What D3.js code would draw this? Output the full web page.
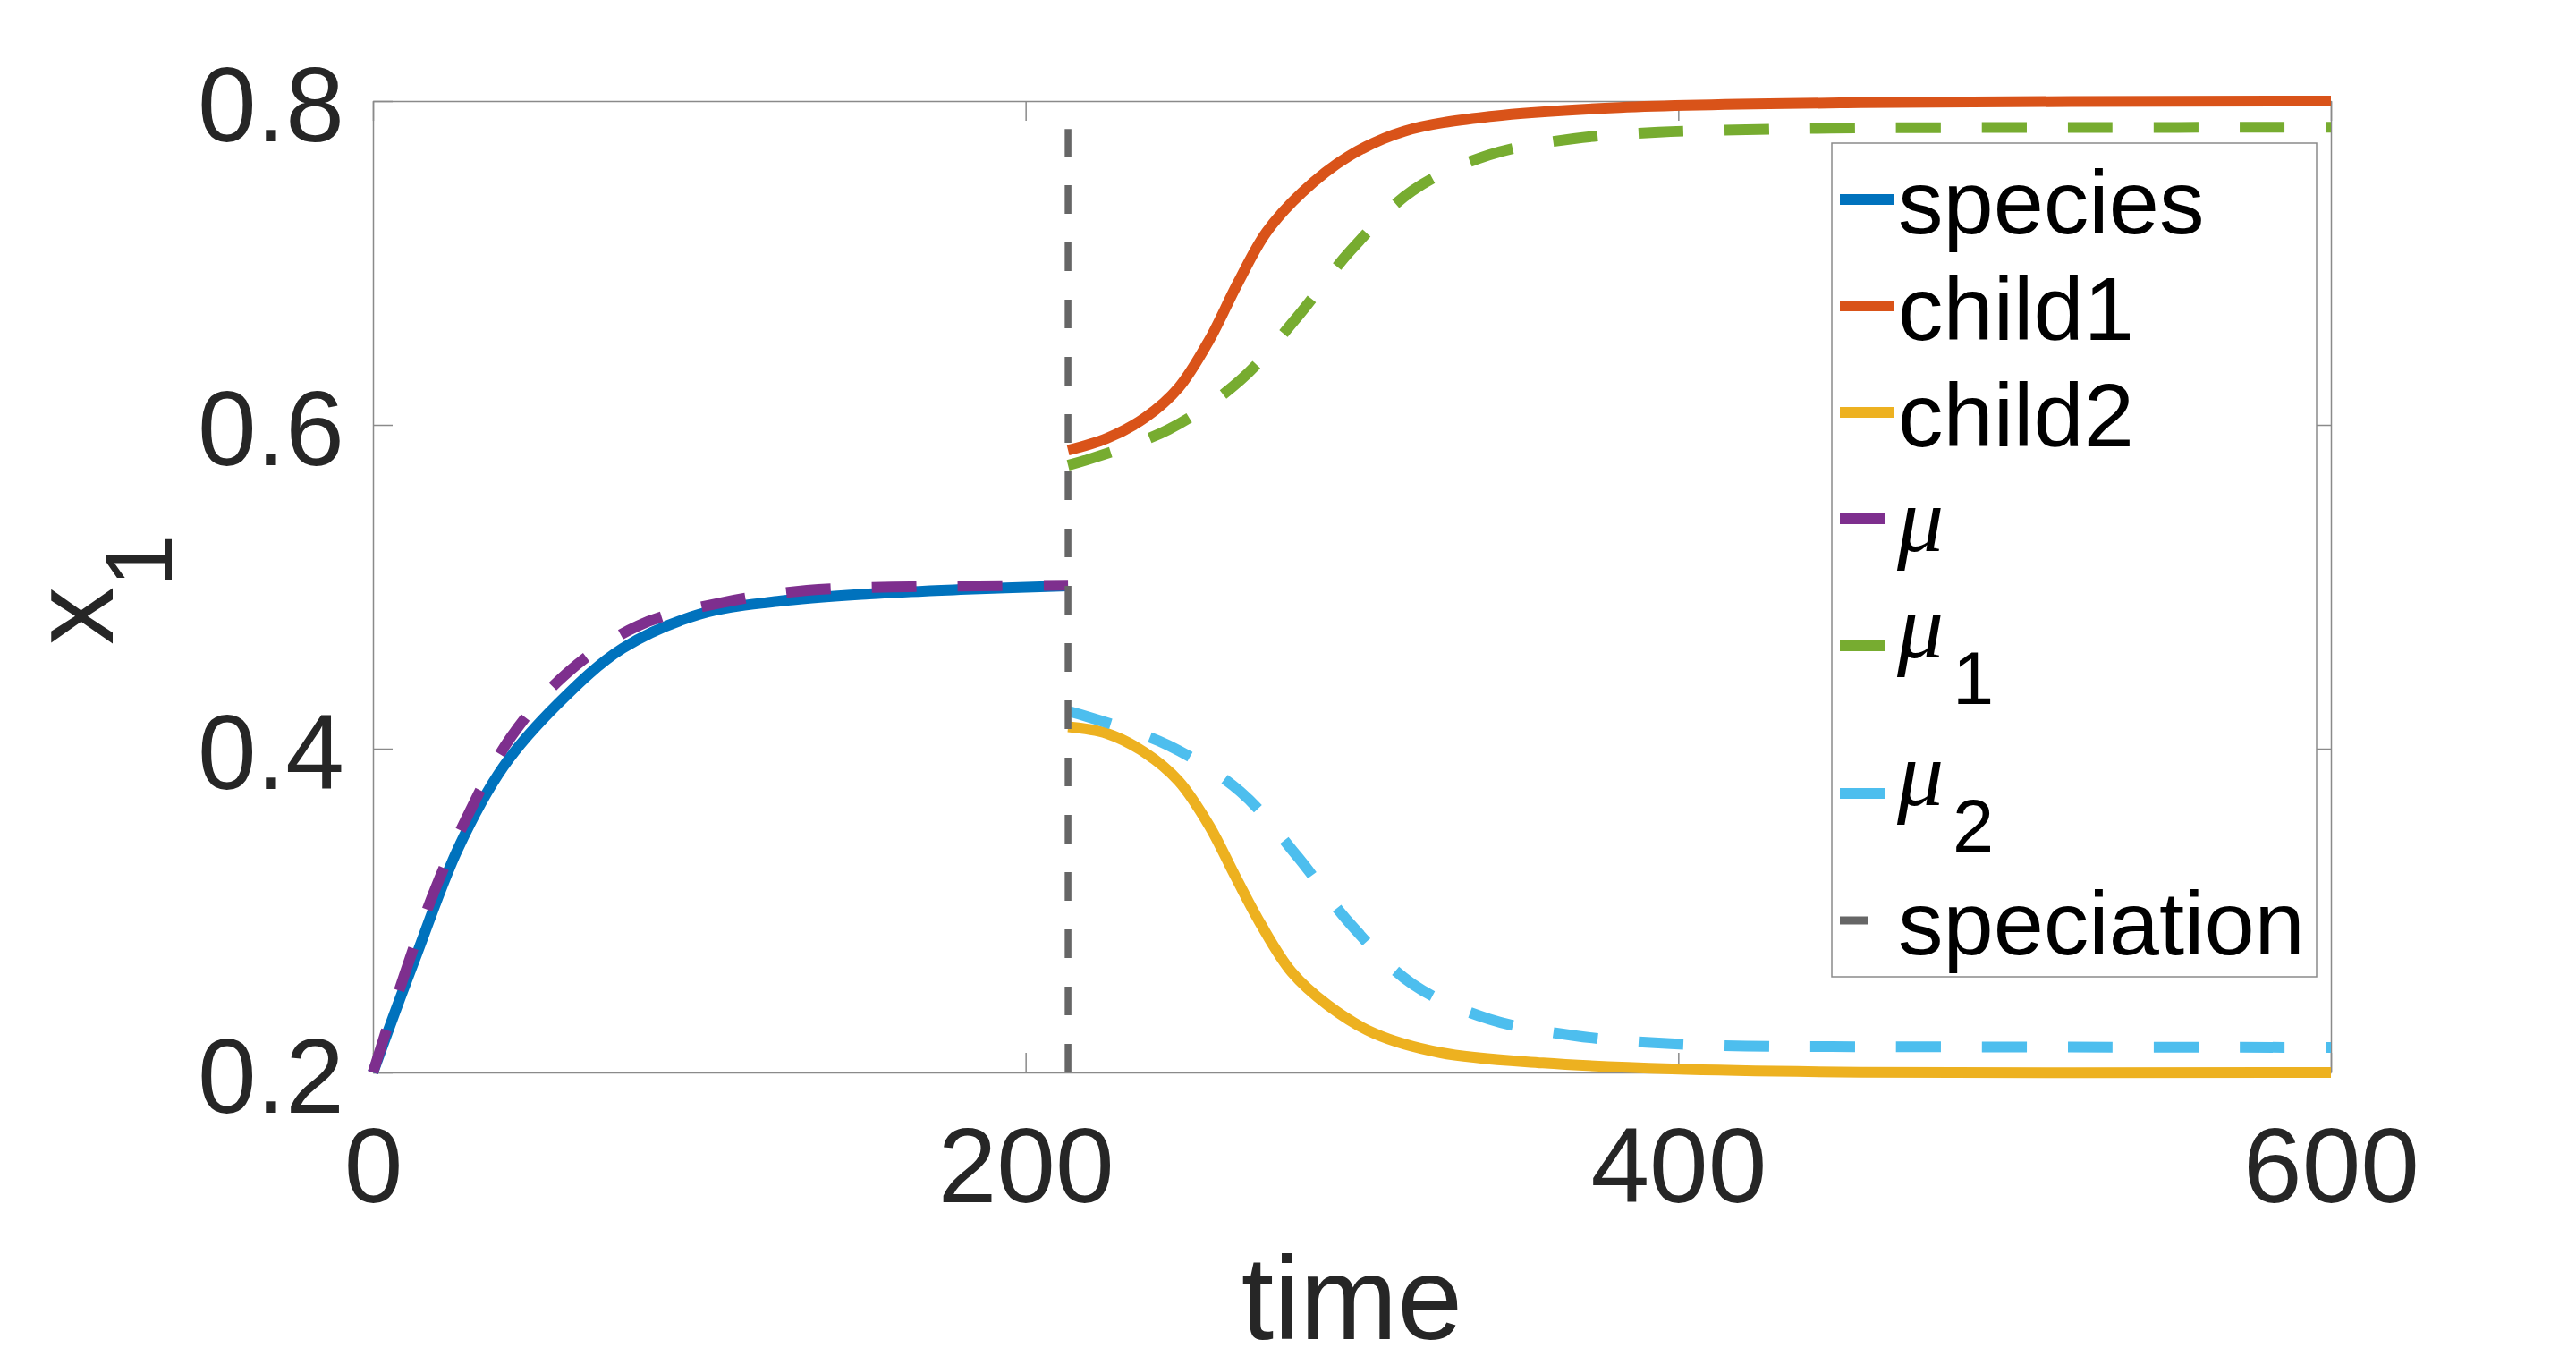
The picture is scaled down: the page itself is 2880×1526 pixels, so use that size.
<!DOCTYPE html>
<html>
<head>
<meta charset="utf-8">
<script src="https://cdn.jsdelivr.net/npm/d3@7/dist/d3.min.js"></script>
<style>
  body { margin: 0; background: #fff; }
  svg text { font-family: "Liberation Sans", Arial, Helvetica, sans-serif; }
</style>
</head>
<body>
<div id="chart"></div>
<script>
// values (time, x1)

var speciesT = [0, 6.5, 13.4, 26, 40, 56.8, 76.5, 100, 124, 152, 180, 213];
var speciesV = [0.2, 0.236, 0.273, 0.338, 0.389, 0.428, 0.462, 0.483, 0.491, 0.4956, 0.4983, 0.5005];

var muT = [0, 9.9, 19, 29.6, 42.2, 59.6, 81.3, 106.4, 133, 159, 185.6, 213];
var muV = [0.2, 0.262, 0.313, 0.361, 0.407, 0.447, 0.476, 0.490, 0.4978, 0.4998, 0.5005, 0.501];

var child1T = [213, 224.9, 236.7, 246.9, 256.3, 265, 273.7, 284.7, 298.8, 316, 343, 382, 456, 600];
var child1V = [0.5844, 0.5917, 0.6046, 0.623, 0.6525, 0.6875, 0.7188, 0.7436, 0.7657, 0.7814, 0.7906, 0.796, 0.799, 0.8];

var mu1T = [213, 219.4, 243.8, 265.8, 283.1, 299.6, 318.5, 342, 368, 394, 420.8, 446.8, 520, 600];
var mu1V = [0.5751, 0.5788, 0.5972, 0.6276, 0.6663, 0.7077, 0.7446, 0.7667, 0.7768, 0.7808, 0.7823, 0.7833, 0.7837, 0.7838];

var child2T = [213, 224.9, 236.7, 246.9, 256.3, 264.3, 272.1, 281.5, 292.5, 306.7, 327, 358.5, 398, 456, 600];
var child2V = [0.4135, 0.4094, 0.3974, 0.38, 0.3523, 0.321, 0.2915, 0.2621, 0.2418, 0.2243, 0.2123, 0.2059, 0.2022, 0.2002, 0.2];

var mu2T = [213, 219.4, 243.8, 265.8, 283.1, 299.6, 318.5, 342, 368, 394, 420.8, 446.8, 520, 600];
var mu2V = [0.4232, 0.4195, 0.402, 0.3735, 0.3339, 0.2915, 0.2547, 0.233, 0.2228, 0.2182, 0.2163, 0.216, 0.2157, 0.2155];

var speciationT = 213;
var speciationV = [0.2, 0.7828];

var xTicks = [0, 200, 400, 600];
var yTicks = [0.2, 0.4, 0.6, 0.8];

var legendNames = ["species", "child1", "child2", "\u03bc", "\u03bc", "\u03bc", "speciation"];
var legendSubs = ["", "", "", "", "1", "2", ""];

// styling
var colors = ["#0072BD", "#D95319", "#EDB120", "#7E2F8E", "#77AC30", "#4DBEEE", "#666666"];
var dashes = [null, null, null, "50,46", "50,46", "50,46", "32,32"];
var widths = [12, 12, 12, 12, 12, 12, 7.5];
var axisColor = "#8a8a8a";
var tickColor = "#262626";

var width = 2880, height = 1526;
var margin = { top: 113, right: 274, bottom: 327, left: 417 };

var x = d3.scaleLinear()
    .domain([0, 600])
    .range([margin.left, width - margin.right]);

var y = d3.scaleLinear()
    .domain([0.2, 0.8])
    .range([height - margin.bottom, margin.top]);

var svg = d3.select("#chart").append("svg")
    .attr("width", width)
    .attr("height", height);

function zip(ts, vs) {
  return ts.map(function(t, i) { return [t, vs[i]]; });
}

//AXES (box with inward ticks on all four sides)

function styleAxis(g, fontSize) {
  g.attr("font-family", null).attr("font-size", null);
  g.select(".domain").attr("stroke", axisColor).attr("stroke-width", 1.5);
  g.selectAll(".tick line").attr("stroke", axisColor).attr("stroke-width", 1.5);
  g.selectAll(".tick text").attr("fill", tickColor).attr("font-size", fontSize);
}

svg.append("g")
    .attr("transform", "translate(0," + y(0.2) + ")")
    .call(d3.axisBottom(x).tickValues(xTicks).tickSizeInner(-22).tickSizeOuter(0).tickPadding(61))
    .call(styleAxis, 118);

svg.append("g")
    .attr("transform", "translate(0," + y(0.8) + ")")
    .call(d3.axisTop(x).tickValues(xTicks).tickSizeInner(-22).tickSizeOuter(0).tickFormat(function() { return ""; }))
    .call(styleAxis, 118);

var gy = svg.append("g")
    .attr("transform", "translate(" + x(0) + ",0)")
    .call(d3.axisLeft(y).tickValues(yTicks).tickSizeInner(-22).tickSizeOuter(0).tickPadding(32).tickFormat(d3.format(".1f")))
    .call(styleAxis, 118);
gy.selectAll(".tick text").attr("dy", "0.38em");

svg.append("g")
    .attr("transform", "translate(" + x(600) + ",0)")
    .call(d3.axisRight(y).tickValues(yTicks).tickSizeInner(-22).tickSizeOuter(0).tickFormat(function() { return ""; }))
    .call(styleAxis, 118);

// axis labels
svg.append("text")
    .attr("x", (x(0) + x(600)) / 2)
    .attr("y", 1497)
    .attr("text-anchor", "middle")
    .attr("font-size", 131)
    .attr("fill", tickColor)
    .text("time");

var ylab = svg.append("text")
    .attr("transform", "translate(126,721) rotate(-90)")
    .attr("font-size", 130)
    .attr("fill", tickColor)
    .text("x");
ylab.append("tspan")
    .attr("dy", 66)
    .attr("font-size", 105)
    .text("1");

//CURVES

var line = d3.line()
    .x(function(d) { return x(d[0]); })
    .y(function(d) { return y(d[1]); })
    .curve(d3.curveCatmullRom.alpha(0.5));

var series = [
  zip(speciesT, speciesV),
  zip(child1T, child1V),
  zip(child2T, child2V),
  zip(muT, muV),
  zip(mu1T, mu1V),
  zip(mu2T, mu2V)
];

svg.append("g")
  .selectAll("path")
  .data(series)
  .enter().append("path")
    .attr("d", line)
    .attr("fill", "none")
    .attr("stroke", function(d, i) { return colors[i]; })
    .attr("stroke-width", function(d, i) { return widths[i]; })
    .attr("stroke-dasharray", function(d, i) { return dashes[i]; });

// speciation marker, drawn from the bottom up
svg.append("line")
    .attr("x1", x(speciationT)).attr("x2", x(speciationT))
    .attr("y1", y(speciationV[0])).attr("y2", y(speciationV[1]))
    .attr("stroke", colors[6])
    .attr("stroke-width", widths[6])
    .attr("stroke-dasharray", dashes[6]);

//LEGEND

var legend = svg.append("g");
legend.append("rect")
    .attr("x", 2048).attr("y", 160)
    .attr("width", 542).attr("height", 932)
    .attr("fill", "#fff")
    .attr("stroke", axisColor)
    .attr("stroke-width", 1.5);

var rowTop = 163.5;
legendNames.forEach(function(name, i) {
  var sub = legendSubs[i];
  var h = sub ? 165 : 119;
  var cy = rowTop + h / 2;
  rowTop += h;

  legend.append("line")
      .attr("x1", 2057).attr("x2", 2117)
      .attr("y1", cy).attr("y2", cy)
      .attr("stroke", colors[i])
      .attr("stroke-width", widths[i] === 12 ? 12 : 9)
      .attr("stroke-dasharray", dashes[i]);

  var greek = name === "\u03bc";
  var t = legend.append("text")
      .attr("x", greek ? 2121 : 2122)
      .attr("y", cy + (greek ? (sub ? 13 : 36) : 37.5))
      .attr("font-size", greek ? 104 : 101)
      .attr("fill", "#000")
      .text(name);
  if (greek) {
    t.style("font-family", "'Liberation Serif', 'Times New Roman', serif")
     .attr("font-style", "italic");
  }
  if (sub) {
    legend.append("text")
        .attr("x", 2183)
        .attr("y", cy + 65)
        .attr("font-size", 83)
        .attr("fill", "#000")
        .text(sub);
  }
});
</script>
</body>
</html>
